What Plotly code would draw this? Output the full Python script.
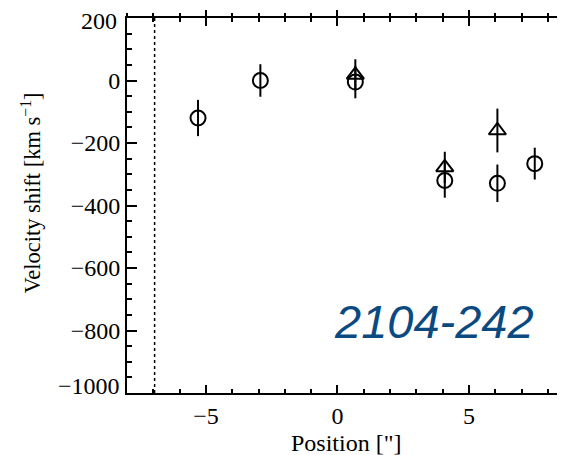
import plotly.graph_objects as go

# Data
circ_x = [-5.30, -2.93, 0.68, 4.08, 6.08, 7.50]
circ_y = [-120, 0, -5, -320, -329, -266]
circ_err = [58, 52, 52, 55, 60, 51]

tri_x = [0.68, 4.08, 6.08]
tri_y = [18, -278, -160]
tri_err = [50, 50, 70]

ref_x = -6.95
x_range = [-8.0, 8.65]
y_range = [-1000, 200]
y_ticks = [200, 0, -200, -400, -600, -800, -1000]
y_tick_text = ["200", "0", "\u2212200", "\u2212400", "\u2212600", "\u2212800", "\u22121000"]
x_ticks = [-5, 0, 5]
x_tick_text = ["\u22125", "0", "5"]
label_text = "2104-242"

serif = "Liberation Serif"
sans = "Liberation Sans"
fs = 24

fig = go.Figure()
fig.add_trace(go.Scatter(
    x=circ_x, y=circ_y, mode="markers",
    marker=dict(symbol="circle-open", size=15, color="black", line=dict(width=2, color="black")),
    error_y=dict(type="data", array=circ_err, thickness=2, width=0, color="black"),
    showlegend=False))
fig.add_trace(go.Scatter(
    x=tri_x, y=tri_y, mode="markers",
    marker=dict(symbol="triangle-up-open", size=15, color="black", line=dict(width=2, color="black")),
    error_y=dict(type="data", array=tri_err, thickness=2, width=0, color="black"),
    showlegend=False))
# invisible trace to anchor the top overlay axis
fig.add_trace(go.Scatter(x=[x_range[0]], y=[y_range[0]], xaxis="x2", mode="markers",
                         marker=dict(opacity=0), showlegend=False, hoverinfo="skip"))

fig.add_shape(type="line", x0=ref_x, x1=ref_x, y0=y_range[0], y1=y_range[1],
              xref="x", yref="y", line=dict(color="black", width=1.5, dash="dot"))

# end labels of the y axis are nudged inward, as in the reference
fig.add_annotation(x=x_range[0], y=y_ticks[0], xref="x", yref="y", text=y_tick_text[0],
                   showarrow=False, xanchor="right", yanchor="middle", xshift=-8, yshift=-3,
                   font=dict(family=serif, size=fs, color="black"))
fig.add_annotation(x=x_range[0], y=y_ticks[-1], xref="x", yref="y", text=y_tick_text[-1],
                   showarrow=False, xanchor="right", yanchor="middle", xshift=-5, yshift=7,
                   font=dict(family=serif, size=fs, color="black"))
fig.add_annotation(x=0.5, y=0, xref="paper", yref="paper", text="Position [\"]",
                   showarrow=False, xanchor="center", yanchor="middle", yshift=-50,
                   font=dict(family=serif, size=fs, color="black"))
fig.add_annotation(x=0, y=0.5, xref="paper", yref="paper",
                   text="Velocity shift [km s<sup>\u22121</sup>]", textangle=-90,
                   showarrow=False, xanchor="center", yanchor="middle", xshift=-97, yshift=12,
                   font=dict(family=serif, size=22.5, color="black"))
fig.add_annotation(x=3.66, y=-770, xref="x", yref="y", text="<i>%s</i>" % label_text,
                   showarrow=False, xanchor="center", yanchor="middle",
                   font=dict(family=sans, size=47, color="#0B4A80"))

# the page body adds an 8 px offset; margins compensate for it
fig.update_layout(
    width=557, height=447,
    margin=dict(l=119, r=0, t=10, b=62, autoexpand=False),
    plot_bgcolor="white", paper_bgcolor="white",
    font=dict(family=serif, size=fs, color="black"),
    xaxis=dict(range=x_range, showgrid=False, zeroline=False, showline=True, linecolor="black",
               linewidth=2, mirror="ticks", ticks="inside", ticklen=8, tickwidth=2, tickcolor="black",
               tickvals=x_ticks, ticktext=x_tick_text, tickfont=dict(family=serif, size=fs),
               minor=dict(ticks="inside", ticklen=4, tickwidth=1.5, dtick=1, tickcolor="black", showgrid=False),
               automargin=False),
    xaxis2=dict(range=x_range, overlaying="x", side="top", showgrid=False, zeroline=False,
                showline=False, ticks="outside", ticklen=7, tickwidth=2, tickcolor="black",
                tickvals=x_ticks, showticklabels=False,
                minor=dict(ticks="outside", ticklen=4, tickwidth=1.5, dtick=1, tickcolor="black", showgrid=False),
                automargin=False),
    yaxis=dict(range=y_range, showgrid=False, zeroline=False, showline=True, linecolor="black",
               linewidth=2, ticks="inside", ticklen=10, tickwidth=2, tickcolor="black",
               tickvals=y_ticks[1:-1], ticktext=y_tick_text[1:-1], tickfont=dict(family=serif, size=fs),
               minor=dict(ticks="inside", ticklen=5, tickwidth=1.5, dtick=50, tickcolor="black", showgrid=False),
               automargin=False),
)

fig.write_html("out.html")
